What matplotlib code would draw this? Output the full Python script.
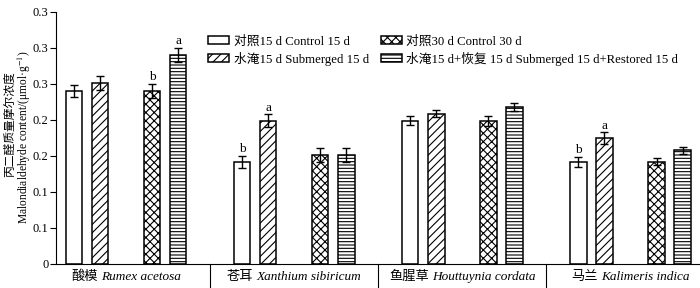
import numpy as np
import matplotlib
matplotlib.use("Agg")
import matplotlib.pyplot as plt
import matplotlib.transforms as mtransforms

plt.rcParams['font.family'] = ['Liberation Serif', 'Noto Sans CJK SC', 'DejaVu Sans']
plt.rcParams['mathtext.fontset'] = 'stix'
plt.rcParams['hatch.linewidth'] = 0.8

# ---------------- data ----------------
cat_cn = ['酸模', '苍耳', '鱼腥草', '马兰']
cat_latin = ['Rumex acetosa', 'Xanthium sibiricum', 'Houttuynia cordata', 'Kalimeris indica']
series_labels = ['对照15 d Control 15 d', '水淹15 d Submerged 15 d',
                 '对照30 d Control 30 d', '水淹15 d+恢复 15 d Submerged 15 d+Restored 15 d']
control15 = [0.240, 0.142, 0.199, 0.142]
submerged15 = [0.251, 0.199, 0.209, 0.175]
control30 = [0.240, 0.151, 0.199, 0.142]
restored15 = [0.290, 0.151, 0.218, 0.158]
control15_err = [0.008, 0.008, 0.006, 0.007]
submerged15_err = [0.010, 0.009, 0.005, 0.008]
control30_err = [0.010, 0.010, 0.007, 0.005]
restored15_err = [0.010, 0.010, 0.006, 0.005]
control15_sig = ['', 'b', '', 'b']
submerged15_sig = ['', 'a', '', 'a']
control30_sig = ['b', '', '', '']
restored15_sig = ['a', '', '', '']
yticks = [0, 0.05, 0.10, 0.15, 0.20, 0.25, 0.30, 0.35]
ytick_labels = ['0', '0.1', '0.1', '0.2', '0.2', '0.3', '0.3', '0.3']

# ---------------- figure ----------------
fig = plt.figure(figsize=(7.0, 2.88), dpi=100)
ax = fig.add_axes([56/700, 24/288, 644/700, 252/288])

values = [control15, submerged15, control30, restored15]
errs = [control15_err, submerged15_err, control30_err, restored15_err]
sigs = [control15_sig, submerged15_sig, control30_sig, restored15_sig]
hatches = [None, '////', 'xxxx', '-----']
slots = [-2, -1, 1, 2]
slot_w = 0.155
bar_w = 0.098
x = np.arange(len(cat_cn))

handles = []
for vals, er, sg, h, s, lab in zip(values, errs, sigs, hatches, slots, series_labels):
    xs = x + s * slot_w
    b = ax.bar(xs, vals, width=bar_w, color='white', edgecolor='black',
               linewidth=1.1, hatch=h, label=lab, zorder=2)
    handles.append(b)
    ax.errorbar(xs, vals, yerr=er, fmt='none', ecolor='black', elinewidth=1.0,
                capsize=2.6, capthick=1.0, zorder=3)
    for xi, v, e, t in zip(xs, vals, er, sg):
        if t:
            ax.annotate(t, (xi, v + e), xytext=(0, 0.5), textcoords='offset points',
                        ha='center', va='bottom', fontsize=9.5)

ax.set_xlim(-0.416, 3.413)
ax.set_ylim(0, 0.35)
ax.set_yticks(yticks)
ax.set_yticklabels(ytick_labels, fontsize=9)
ax.set_xticks([])
for sp in ['top', 'right']:
    ax.spines[sp].set_visible(False)
ax.spines['left'].set_linewidth(0.8)
ax.spines['bottom'].set_linewidth(0.8)
ax.tick_params(axis='y', direction='out', length=4, width=0.8, pad=1.5)

# group separators below the axis
trans = mtransforms.blended_transform_factory(ax.transData, ax.transAxes)
for i in range(len(cat_cn) - 1):
    ax.plot([i + 0.5, i + 0.5], [0, -0.1], color='black', lw=0.8,
            transform=trans, clip_on=False)

# category labels (Chinese regular + Latin italic), centered per group
fig.canvas.draw()
renderer = fig.canvas.get_renderer()
ident = mtransforms.IdentityTransform()
label_y_px = 288 - 277
for i, (cn, la) in enumerate(zip(cat_cn, cat_latin)):
    t1 = fig.text(0, 0, cn, fontsize=9.5, va='center', ha='left', transform=ident)
    t2 = fig.text(0, 0, la, fontsize=9.5, va='center', ha='left', style='italic',
                  transform=ident)
    w1 = t1.get_window_extent(renderer).width
    w2 = t2.get_window_extent(renderer).width
    gap = 3
    cx = ax.transData.transform((i, 0))[0]
    left = cx - (w1 + gap + w2) / 2
    t1.set_position((left, label_y_px))
    t2.set_position((left + w1 + gap, label_y_px))

# y label (two lines)
fig.text(10.5/700, 1 - 124/288, '丙二醛质量摩尔浓度', rotation=90, fontsize=8.5,
         ha='center', va='center')
fig.text(24/700, 1 - 137/288, 'Malondialdehyde content/(μmol·g$^{-1}$)', rotation=90,
         fontsize=8.3, ha='center', va='center')

leg = fig.legend(handles=handles, labels=series_labels, ncol=2, frameon=False,
                 loc='upper left', bbox_to_anchor=(208/700, 1 - 35.5/288),
                 borderpad=0, borderaxespad=0, fontsize=9.2, handlelength=1.65,
                 handleheight=0.6, handletextpad=0.35, labelspacing=0.3,
                 columnspacing=0.95)

fig.savefig('out.png', dpi=100)
